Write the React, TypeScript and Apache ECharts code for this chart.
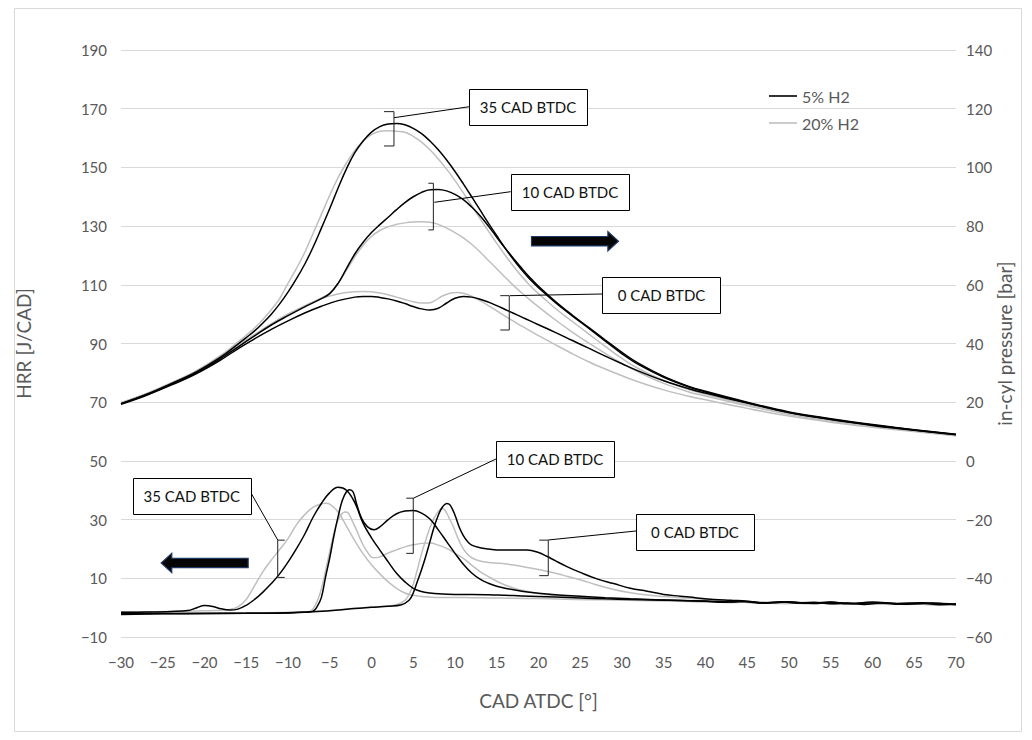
import { useEffect, useRef } from "react";
import * as echarts from "echarts";

const FONT = "Lato, 'Open Sans', sans-serif";
const AXIS_GREY = "#595959";
const GRID_GREY = "#d9d9d9";
const BLACK = "#000000";
const GREY = "#bfbfbf";

const LEGEND_5 = "5% H2";
const LEGEND_20 = "20% H2";

// In-cylinder pressure [bar] vs crank angle [CAD ATDC]
const pressure35_5: [number, number][] = [
  [-30, 19.5], [-27, 22.6], [-24, 26.3], [-21, 30.3], [-18, 35.5], [-16, 39.8], [-15, 42], [-14, 44.3],
  [-13, 47], [-12, 50], [-11, 53.5], [-10, 57.5], [-9, 62], [-8, 67], [-7, 72.8], [-6, 79.3], [-5, 86],
  [-4, 93], [-3, 99.5], [-2, 105], [-1, 109], [0, 112], [1, 113.9], [2, 114.8], [3, 115], [4, 114.5],
  [5, 113.3], [6, 111.5], [7, 109], [8, 106], [9, 102.5], [10, 98.6], [11, 94.4], [12, 90], [13, 85.5],
  [14, 81], [15, 76.7], [16, 72.5], [17, 68.6], [18, 65], [19, 61.8], [20, 59], [22, 54], [24, 49.5],
  [26, 45.2], [28, 40.8], [30, 36.5], [32, 32.8], [35, 28.5], [38, 25.2], [40, 23.5], [45, 19.8],
  [50, 16.5], [55, 14.2], [60, 12.2], [65, 10.5], [70, 9],
];
const pressure35_20: [number, number][] = [
  [-30, 19.8], [-27, 22.9], [-24, 26.6], [-21, 30.7], [-18, 36], [-16, 40.5], [-15, 42.8], [-14, 45.3],
  [-13, 48.2], [-12, 51.5], [-11, 55.3], [-10, 60.5], [-9, 65.5], [-8, 71], [-7, 77.5], [-6, 84],
  [-5, 90.5], [-4, 96.5], [-3, 101.5], [-2, 105.8], [-1, 109], [0, 111.2], [1, 112.3], [2, 112.5],
  [3, 112.3], [4, 112], [5, 110.6], [6, 108.6], [7, 106], [8, 102.9], [9, 99.4], [10, 95.5], [11, 91.3],
  [12, 87], [13, 82.6], [14, 78.3], [15, 74.1], [16, 70.1], [17, 66.3], [18, 62.8], [19, 59.7], [20, 57],
  [22, 52], [24, 47.6], [26, 43.3], [28, 39], [30, 34.9], [32, 31.4], [35, 27.4], [38, 24.3], [40, 22.7],
  [45, 19.2], [50, 16.1], [55, 13.8], [60, 11.9], [65, 10.3], [70, 8.8],
];
const pressure10_5: [number, number][] = [
  [-30, 19.5], [-27, 22.5], [-24, 26.1], [-21, 30], [-18, 35], [-16, 38.8], [-14, 42.6], [-12, 46.3],
  [-10, 49.5], [-8, 52.5], [-6, 55.3], [-5, 57], [-4, 60.5], [-3, 65.5], [-2, 70.5], [-1, 74.5],
  [0, 77.8], [1, 80.5], [2, 83], [3, 85.6], [4, 88], [5, 90], [6, 91.5], [7, 92.4], [8, 92.5], [9, 92],
  [10, 90.8], [11, 89], [12, 86.5], [13, 83.5], [14, 80], [15, 76.2], [16, 72.5], [17, 69], [18, 65.6],
  [19, 62.4], [20, 59.5], [22, 54.4], [24, 49.8], [26, 45.5], [28, 41.2], [30, 37], [32, 33.2],
  [35, 28.8], [38, 25.4], [40, 23.7], [45, 20], [50, 16.7], [55, 14.4], [60, 12.4], [65, 10.6], [70, 9.1],
];
const pressure10_20: [number, number][] = [
  [-30, 19.8], [-27, 22.8], [-24, 26.4], [-21, 30.4], [-18, 35.3], [-16, 39.2], [-14, 43], [-12, 46.7],
  [-10, 50], [-8, 52.8], [-6, 55.5], [-5, 57.2], [-4, 60.5], [-3, 65], [-2, 69.5], [-1, 73.5], [0, 76.5],
  [1, 78.5], [2, 79.8], [3, 80.6], [4, 81.1], [5, 81.4], [6, 81.5], [7, 81.3], [8, 80.6], [9, 79.3],
  [10, 77.8], [11, 76], [12, 73.8], [13, 71.2], [14, 68.3], [15, 65.5], [16, 62.6], [17, 59.8],
  [18, 57.2], [19, 54.8], [20, 52.5], [22, 48.1], [24, 44], [26, 40.2], [28, 36.6], [30, 33.2],
  [32, 30.2], [35, 26.4], [38, 23.5], [40, 22.1], [45, 18.8], [50, 15.8], [55, 13.6], [60, 11.8],
  [65, 10.2], [70, 8.8],
];
const pressure0_5: [number, number][] = [
  [-30, 19.3], [-27, 22.3], [-24, 25.8], [-21, 29.7], [-18, 34.5], [-16, 38.2], [-14, 41.6], [-12, 44.8],
  [-10, 47.7], [-8, 50.4], [-6, 52.7], [-4, 54.6], [-2, 55.8], [-1, 56], [0, 56], [1, 55.7], [2, 55.2],
  [3, 54.5], [4, 53.6], [5, 52.6], [6, 51.8], [7, 51.4], [8, 52], [9, 53.8], [10, 55.4], [11, 56],
  [12, 55.8], [13, 55.1], [14, 54.1], [15, 52.9], [16, 51.6], [17, 50.3], [18, 49], [19, 47.7],
  [20, 46.4], [22, 43.8], [24, 41.1], [26, 38.4], [28, 35.7], [30, 33.1], [32, 30.6], [35, 27.3],
  [38, 24.6], [40, 23.1], [45, 19.7], [50, 16.5], [55, 14.1], [60, 12.1], [65, 10.4], [70, 8.9],
];
const pressure0_20: [number, number][] = [
  [-30, 19.8], [-27, 22.8], [-24, 26.4], [-21, 30.4], [-18, 35.3], [-16, 39.2], [-14, 43], [-12, 46.7],
  [-10, 50], [-8, 52.8], [-6, 55.3], [-4, 56.9], [-2, 57.6], [-1, 57.7], [0, 57.6], [1, 57.2], [2, 56.6],
  [3, 55.8], [4, 55], [5, 54.2], [6, 53.8], [6.8, 53.8], [7.5, 54.5], [8.5, 56.2], [9.5, 57.2],
  [10.3, 57.4], [11, 57.1], [12, 56.1], [13, 54.6], [14, 52.9], [15, 51.1], [16, 49.3], [17, 47.6],
  [18, 45.9], [19, 44.3], [20, 42.7], [22, 39.6], [24, 36.6], [26, 33.8], [28, 31.3], [30, 29],
  [32, 26.9], [35, 24.2], [38, 22], [40, 20.8], [45, 17.9], [50, 15.3], [55, 13.2], [60, 11.5],
  [65, 10], [70, 8.6],
];

// Heat release rate [J/CAD] vs crank angle [CAD ATDC]
const hrr35_5: [number, number][] = [
  [-30, -1.6], [-27, -1.5], [-24, -1.3], [-22, -1], [-21, -0.1], [-20, 0.7], [-19, 0.4], [-18, -0.4],
  [-17, -0.8], [-16, -0.5], [-15, 0.8], [-14, 2.8], [-13, 5.3], [-12, 8.2], [-11, 11.5], [-10, 15.5],
  [-9, 20], [-8, 25], [-7, 30.8], [-6, 35.5], [-5, 39.2], [-4, 41], [-3, 40], [-2, 35.8], [-1, 28.7],
  [0, 23.8], [1, 19.6], [2, 15.6], [3, 11.7], [4, 8.8], [5, 6.6], [6, 5.5], [7, 5], [8, 4.7], [10, 4.5],
  [12, 4.5], [14, 4.4], [16, 4.2], [18, 4], [20, 3.8], [22, 3.6], [25, 3.3], [28, 3], [31, 2.8],
  [34, 2.6], [37, 2.4], [40, 2.2], [43, 1.9], [45, 2.1], [47, 1.6], [50, 1.9], [53, 1.4], [55, 1.8],
  [58, 1.4], [61, 1.7], [64, 1.2], [67, 1.5], [70, 1.2],
];
const hrr35_20: [number, number][] = [
  [-30, -1.4], [-27, -1.4], [-24, -1.3], [-21, -1.1], [-19, -1], [-17, -0.6], [-16, 0.3], [-15, 2.8],
  [-14, 7.5], [-13, 12.3], [-12, 16.2], [-11, 19.8], [-10, 23.5], [-9, 28.2], [-8, 31.7], [-7, 34.2],
  [-6, 35.4], [-5.5, 35.6], [-5, 35.3], [-4, 32.6], [-3, 27.8], [-2, 22.8], [-1, 18.3], [0, 14.6],
  [1, 11.5], [2, 8.8], [3, 6.6], [4, 5], [5, 4.2], [6, 3.8], [7, 3.6], [8, 3.5], [10, 3.5], [12, 3.4],
  [14, 3.3], [17, 3.2], [20, 3.1], [23, 2.9], [26, 2.7], [29, 2.6], [32, 2.4], [35, 2.3], [38, 2.1],
  [41, 1.8], [44, 2], [46, 1.5], [49, 1.8], [52, 1.3], [55, 1.7], [58, 1.2], [61, 1.6], [64, 1.1],
  [67, 1.4], [70, 1],
];
const hrr10_5: [number, number][] = [
  [-30, -2.3], [-25, -2.1], [-20, -2], [-15, -1.9], [-10, -1.8], [-8, -1.6], [-7, -1.2], [-6.5, 0.4],
  [-6, 3.5], [-5.5, 10.5], [-5, 17], [-4.5, 24.5], [-4, 31], [-3.5, 36.5], [-3, 39.5], [-2.6, 40.2],
  [-2.2, 39.4], [-1.8, 35.5], [-1.2, 30.5], [-0.5, 27.6], [0.3, 26.5], [1, 27.5], [2, 30], [3, 32],
  [4, 32.9], [5, 33.1], [6, 32.2], [7, 30.2], [8, 26.5], [9, 22.5], [10, 18.5], [11, 14.8], [12, 11.8],
  [13, 9.7], [14, 8.3], [15, 7.3], [16, 6.6], [18, 5.6], [20, 4.9], [22, 4.4], [25, 3.9], [28, 3.4],
  [31, 3], [34, 2.7], [37, 2.4], [40, 2.3], [42, 1.8], [44, 2.2], [47, 1.5], [50, 2], [52, 1.5],
  [55, 1.9], [57, 1.3], [60, 1.9], [63, 1.4], [66, 1.7], [70, 1],
];
const hrr10_20: [number, number][] = [
  [-30, -2], [-25, -1.9], [-20, -1.8], [-15, -1.8], [-10, -1.7], [-8, -1.5], [-7.2, -1], [-6.7, 1],
  [-6.2, 4.5], [-5.7, 10], [-5.2, 16.5], [-4.7, 23], [-4.2, 28.5], [-3.7, 31.5], [-3.2, 32.6],
  [-2.8, 32.3], [-2.3, 29.5], [-1.8, 26.5], [-1.2, 22.5], [-0.6, 19.4], [0.2, 17], [1, 17.3], [2, 18.6],
  [3, 19.7], [4, 20.7], [5, 21.4], [6, 21.9], [7, 22], [8, 21.3], [9, 20.2], [10, 18.5], [11, 16.8],
  [12, 14.5], [13, 12.3], [14, 10.6], [15, 9], [16, 7.7], [17, 6.7], [18, 5.9], [20, 4.8], [22, 4.1],
  [25, 3.6], [28, 3.2], [31, 2.9], [34, 2.6], [37, 2.4], [40, 2.2], [43, 1.7], [46, 2], [49, 1.4],
  [52, 1.8], [55, 1.3], [58, 1.7], [61, 1.2], [64, 1.5], [67, 1], [70, 1.1],
];
const hrr0_5: [number, number][] = [
  [-30, -1.9], [-25, -2], [-20, -2], [-15, -1.9], [-10, -1.7], [-7, -1.4], [-4, -0.8], [-2, -0.3],
  [0, 0.1], [2, 0.5], [3.5, 0.9], [4.5, 2.5], [5, 5], [5.5, 9], [6, 13], [6.5, 17.5], [7, 22.5],
  [7.5, 27.5], [8, 31.5], [8.5, 34.3], [9, 35.5], [9.4, 35], [10, 31.5], [10.5, 27.5], [11, 24.5],
  [11.5, 22.5], [12, 21.3], [13, 20.4], [14, 20], [15.4, 19.6], [17, 19.6], [18.6, 19.6], [20, 18.8],
  [21, 17.5], [22, 16], [23.4, 14], [25, 12], [27, 9.8], [29, 8.2], [31, 6.6], [33, 5.6], [35, 4.5],
  [37, 3.9], [39, 3.3], [41, 2.8], [43, 2.5], [45, 2.2], [47, 1.6], [49, 2], [51, 1.5], [53, 1.8],
  [55, 1.3], [57, 1.6], [59, 1.1], [61, 1.6], [63, 1.2], [66, 1.5], [68, 1], [70, 1.3],
];
const hrr0_20: [number, number][] = [
  [-30, -1.7], [-25, -1.8], [-20, -1.9], [-15, -1.8], [-10, -1.6], [-7, -1.3], [-4, -0.7], [-2, -0.2],
  [0, 0.2], [2, 0.6], [3, 1], [4, 2.5], [4.5, 4.5], [5, 8], [5.5, 13], [6, 18.5], [6.5, 23], [7, 27.3],
  [7.5, 30.5], [8, 32.8], [8.4, 33.8], [8.8, 33.2], [9.3, 30.5], [9.8, 27.6], [10.3, 24], [10.8, 21],
  [11.4, 18.5], [12, 17], [13, 15.9], [14, 15.4], [15.4, 15.1], [17, 14.5], [19, 13.5], [21, 12.4],
  [23, 11], [25, 9.5], [27, 7.7], [29, 6.2], [31, 5.1], [33, 4.3], [35, 3.8], [37, 3.4], [39, 3],
  [41, 2.5], [43, 2.3], [45, 1.9], [48, 1.8], [50, 1.4], [53, 1.7], [56, 1.2], [59, 1.5], [62, 1.1],
  [65, 1.4], [68, 1], [70, 1.1],
];

// Callout labels (data coordinates on the HRR axis): box centre, connector, bracket
type Callout = {
  text: string;
  box: [number, number];
  from: [number, number];
  to: [number, number];
  bracketCad: number;
  bracketTop: number;
  bracketBottom: number;
  tick: number;
};

const callouts: Callout[] = [
  { text: "35 CAD BTDC", box: [18.74, 170.6], from: [11.71, 170.68], to: [2.69, 166.93], bracketCad: 2.69, bracketTop: 169.0, bracketBottom: 157.3, tick: -10 },
  { text: "10 CAD BTDC", box: [23.77, 141.62], from: [16.67, 141.72], to: [7.52, 138.11], bracketCad: 7.41, bracketTop: 144.6, bracketBottom: 128.7, tick: -5 },
  { text: "0 CAD BTDC", box: [34.73, 106.52], from: [27.72, 106.87], to: [16.59, 106.29], bracketCad: 16.5, bracketTop: 106.3, bracketBottom: 94.6, tick: -9 },
  { text: "35 CAD BTDC", box: [-21.53, 37.91], from: [-14.43, 39.06], to: [-11.23, 23.05], bracketCad: -11.23, bracketTop: 23.0, bracketBottom: 10.3, tick: 7 },
  { text: "10 CAD BTDC", box: [21.98, 50.65], from: [14.91, 50.65], to: [5.0, 37.26], bracketCad: 5.0, bracketTop: 37.3, bracketBottom: 18.5, tick: -7 },
  { text: "0 CAD BTDC", box: [38.74, 25.88], from: [31.68, 26.12], to: [21.17, 23.05], bracketCad: 21.17, bracketTop: 23.0, bracketBottom: 10.9, tick: -9 },
];

// Direction arrows: centre in data coordinates, +1 points right, -1 points left
const arrows: { at: [number, number]; dir: number }[] = [
  { at: [24.37, 124.86], dir: 1 },
  { at: [-19.98, 15.21], dir: -1 },
];

const minusFmt = (v: number) => (v < 0 ? "\u2212" + Math.abs(v) : String(v));

function lineSeries(name: string, data: [number, number][], color: string, yAxisIndex: number) {
  return {
    type: "line",
    name,
    data,
    yAxisIndex,
    smooth: 0.4,
    showSymbol: false,
    symbol: "none",
    silent: true,
    itemStyle: { color },
    lineStyle: { color, width: 1.5 },
  };
}

export default function App() {
  const ref = useRef<HTMLDivElement>(null);

  useEffect(() => {
    if (!ref.current) return;
    const chart = echarts.init(ref.current, undefined, { renderer: "svg" });

    chart.setOption({
      animation: false,
      backgroundColor: "#ffffff",
      textStyle: { fontFamily: FONT },
      grid: { left: 121, right: 76, top: 50, bottom: 103, containLabel: false },
      legend: {
        data: [LEGEND_5, LEGEND_20],
        orient: "vertical",
        left: 764,
        top: 81,
        icon: "rect",
        itemWidth: 28,
        itemHeight: 1.6,
        itemGap: 7,
        selectedMode: false,
        textStyle: { color: AXIS_GREY, fontSize: 16, lineHeight: 20, fontFamily: FONT },
      },
      xAxis: {
        type: "value",
        min: -30,
        max: 70,
        interval: 5,
        name: "CAD ATDC [°]",
        nameLocation: "middle",
        nameGap: 54,
        nameMoveOverlap: false,
        nameTextStyle: { color: AXIS_GREY, fontSize: 19, fontFamily: FONT },
        axisLine: { show: false },
        axisTick: { show: false },
        splitLine: { show: false },
        axisLabel: { color: AXIS_GREY, fontSize: 15, margin: 17, formatter: minusFmt, fontFamily: FONT },
      },
      yAxis: [
        {
          type: "value",
          position: "left",
          min: -10,
          max: 190,
          interval: 20,
          name: "HRR [J/CAD]",
          nameLocation: "middle",
          nameGap: 88,
          nameMoveOverlap: false,
          nameTextStyle: { color: AXIS_GREY, fontSize: 19, fontFamily: FONT },
          axisLine: { show: false },
          axisTick: { show: false },
          splitLine: { show: true, lineStyle: { color: GRID_GREY, width: 1 } },
          axisLabel: { color: AXIS_GREY, fontSize: 15, margin: 14, formatter: minusFmt, fontFamily: FONT },
        },
        {
          type: "value",
          position: "right",
          min: -60,
          max: 140,
          interval: 20,
          name: "in-cyl pressure [bar]",
          nameLocation: "middle",
          nameGap: 39,
          nameMoveOverlap: false,
          nameTextStyle: { color: AXIS_GREY, fontSize: 19, fontFamily: FONT },
          axisLine: { show: false },
          axisTick: { show: false },
          splitLine: { show: false },
          axisLabel: { color: AXIS_GREY, fontSize: 15, margin: 10, formatter: minusFmt, fontFamily: FONT },
        },
      ],
      series: [
        lineSeries(LEGEND_20, pressure35_20, GREY, 1),
        lineSeries(LEGEND_20, pressure10_20, GREY, 1),
        lineSeries(LEGEND_20, pressure0_20, GREY, 1),
        lineSeries(LEGEND_20, hrr35_20, GREY, 0),
        lineSeries(LEGEND_20, hrr10_20, GREY, 0),
        lineSeries(LEGEND_20, hrr0_20, GREY, 0),
        lineSeries(LEGEND_5, pressure35_5, BLACK, 1),
        lineSeries(LEGEND_5, pressure10_5, BLACK, 1),
        lineSeries(LEGEND_5, pressure0_5, BLACK, 1),
        lineSeries(LEGEND_5, hrr35_5, BLACK, 0),
        lineSeries(LEGEND_5, hrr10_5, BLACK, 0),
        lineSeries(LEGEND_5, hrr0_5, BLACK, 0),
      ],
    });

    const toPx = (p: [number, number]) =>
      chart.convertToPixel({ xAxisIndex: 0, yAxisIndex: 0 }, p) as number[];

    const elements: any[] = [
      {
        type: "rect",
        shape: { x: 14.5, y: 8.5, width: 1007, height: 723 },
        style: { fill: "none", stroke: GRID_GREY, lineWidth: 1 },
        silent: true,
        z: 1,
      },
    ];

    const BOX_W = 118;
    const BOX_H = 36;
    callouts.forEach((c) => {
      const [bx, by] = toPx(c.box);
      const [fx, fy] = toPx(c.from);
      const [tx, ty] = toPx(c.to);
      const [kx, kTop] = toPx([c.bracketCad, c.bracketTop]);
      const [, kBot] = toPx([c.bracketCad, c.bracketBottom]);
      elements.push({
        type: "line",
        shape: { x1: fx, y1: fy, x2: tx, y2: ty },
        style: { stroke: BLACK, lineWidth: 1 },
        silent: true,
        z: 10,
      });
      elements.push({
        type: "polyline",
        shape: {
          points: [
            [kx + c.tick, kTop],
            [kx, kTop],
            [kx, kBot],
            [kx + c.tick, kBot],
          ],
        },
        style: { stroke: "#202020", lineWidth: 1, fill: "none" },
        silent: true,
        z: 10,
      });
      elements.push({
        type: "rect",
        shape: { x: Math.round(bx - BOX_W / 2) + 0.5, y: Math.round(by - BOX_H / 2) + 0.5, width: BOX_W, height: BOX_H },
        style: { fill: "#ffffff", stroke: BLACK, lineWidth: 1 },
        silent: true,
        z: 11,
      });
      elements.push({
        type: "text",
        x: bx,
        y: by,
        style: {
          text: c.text,
          fill: "#111111",
          fontSize: 15,
          fontFamily: FONT,
          align: "center",
          verticalAlign: "middle",
        },
        silent: true,
        z: 12,
      });
    });

    const HALF = 43.5;
    const HEAD = 10.6;
    const SHAFT = 4.7;
    const HEAD_H = 9.6;
    arrows.forEach((a) => {
      const [cx, cy] = toPx(a.at);
      const d = a.dir;
      const pts = [
        [-HALF, -SHAFT],
        [HALF - HEAD, -SHAFT],
        [HALF - HEAD, -HEAD_H],
        [HALF, 0],
        [HALF - HEAD, HEAD_H],
        [HALF - HEAD, SHAFT],
        [-HALF, SHAFT],
      ].map(([x, y]) => [cx + d * x, cy + y]);
      elements.push({
        type: "polygon",
        shape: { points: pts },
        style: { fill: "#050505", stroke: "#1f3864", lineWidth: 1.2 },
        silent: true,
        z: 10,
      });
    });

    chart.setOption({ graphic: { elements } });

    return () => chart.dispose();
  }, []);

  return (
    <div
      ref={ref}
      style={{ position: "absolute", left: 0, top: 0, width: 1032, height: 740, background: "#fff" }}
    />
  );
}
